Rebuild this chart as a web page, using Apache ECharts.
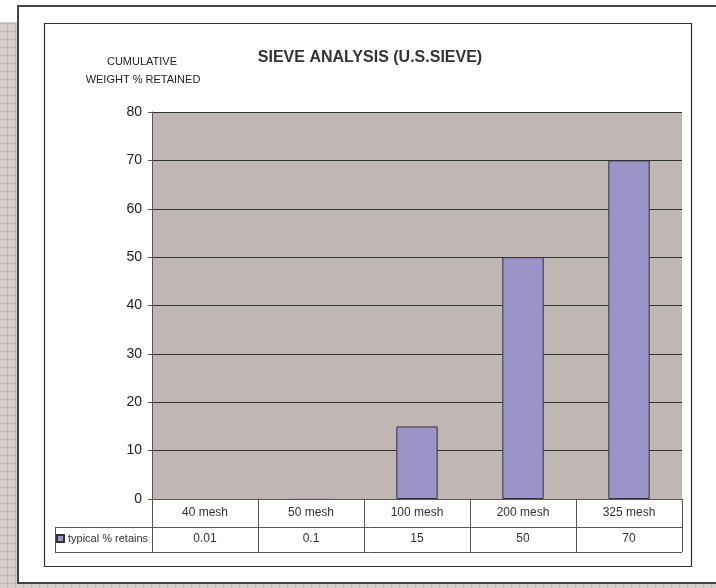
<!DOCTYPE html>
<html><head><meta charset="utf-8">
<script src="https://cdn.jsdelivr.net/npm/echarts@6/dist/echarts.min.js"></script>
<style>html,body{margin:0;padding:0;background:#fff}#c{width:716px;height:588px}</style>
</head><body><div id="c"></div>
<script>
const categories = ['40 mesh', '50 mesh', '100 mesh', '200 mesh', '325 mesh'];
const retains = [0.01, 0.1, 15, 50, 70];
const seriesName = 'typical % retains';
const yTicks = { min: 0, max: 80, interval: 10 };

const FONT = '"Liberation Sans", Arial, sans-serif';
const BAR = '#9a94c8';

// hatch pattern
const pc = document.createElement('canvas');
pc.width = 8; pc.height = 8;
const g = pc.getContext('2d');
g.fillStyle = '#d6cdcd'; g.fillRect(0, 0, 8, 8);
g.fillStyle = '#c2b8b8'; g.fillRect(0, 7, 8, 1); g.fillRect(7, 0, 1, 8);
g.fillStyle = '#ddd5d5'; g.fillRect(2, 2, 1, 1); g.fillRect(5, 4, 1, 1);

const chart = echarts.init(document.getElementById('c'), null, { renderer: 'canvas' });
chart.setOption({
  animation: false,
  backgroundColor: '#fff',
  title: {
    text: 'SIEVE ANALYSIS (U.S.SIEVE)',
    left: 365, top: 45, textAlign: 'center',
    textStyle: { fontFamily: FONT, fontSize: 16, fontWeight: 'bold', color: '#333' }
  },
  legend: {
    data: [seriesName], left: 56, top: 533, itemWidth: 7, itemHeight: 7, itemGap: 4,
    icon: 'rect', padding: 0,
    textStyle: { fontFamily: FONT, fontSize: 11, color: '#333', padding: [0, 0, 0, -1] }
  },
  grid: { left: 152, top: 112, right: 34, bottom: 89, show: true, backgroundColor: '#c0b6b4', borderWidth: 0 },
  xAxis: [{
    type: 'category', data: categories, position: 'bottom',
    axisLine: { lineStyle: { color: '#555', width: 1 } },
    axisTick: { show: true, length: 53, lineStyle: { color: '#555' } },
    axisLabel: { fontFamily: FONT, fontSize: 12, color: '#333', margin: 8 }
  }, {
    type: 'category', data: retains.map(String), position: 'bottom', offset: 26,
    axisLine: { show: false }, axisTick: { show: false },
    axisLabel: { fontFamily: FONT, fontSize: 12, color: '#333', margin: 8 }
  }],
  yAxis: {
    type: 'value', min: yTicks.min, max: yTicks.max, interval: yTicks.interval,
    axisLine: { show: true, lineStyle: { color: '#555' } },
    axisTick: { show: true, length: 4, lineStyle: { color: '#555' } },
    axisLabel: { fontFamily: FONT, fontSize: 14, color: '#222', margin: 10 },
    splitLine: { lineStyle: { color: '#333', width: 1 } }
  },
  series: [{
    name: seriesName, type: 'bar', barWidth: '39%',
    data: retains.map(v => ({ value: v, itemStyle: v < 1 ? { borderWidth: 0 } : {} })),
    itemStyle: { color: BAR, borderColor: '#333', borderWidth: 1 }
  }],
  graphic: [
    { type: 'rect', z: -10, shape: { x: 0, y: 22, width: 18, height: 566 }, style: { fill: { image: pc, repeat: 'repeat' } } },
    { type: 'rect', z: -10, shape: { x: 0, y: 584, width: 716, height: 4 }, style: { fill: { image: pc, repeat: 'repeat' } } },
    { type: 'rect', z: -9, shape: { x: 18, y: 6, width: 702, height: 577 }, style: { fill: '#fff', stroke: '#444', lineWidth: 2 } },
    { type: 'rect', z: -8, shape: { x: 44.5, y: 23.5, width: 647, height: 543 }, style: { fill: '#fff', stroke: '#333', lineWidth: 1.2 } },
    { type: 'line', z: 10, shape: { x1: 55, y1: 527.5, x2: 682, y2: 527.5 }, style: { stroke: '#555', lineWidth: 1 } },
    { type: 'line', z: 10, shape: { x1: 55, y1: 552.5, x2: 682, y2: 552.5 }, style: { stroke: '#555', lineWidth: 1 } },
    { type: 'line', z: 10, shape: { x1: 55.5, y1: 527, x2: 55.5, y2: 553 }, style: { stroke: '#555', lineWidth: 1 } },
    { type: 'text', z: 10, style: { text: 'CUMULATIVE', x: 142, y: 62, textAlign: 'center', textVerticalAlign: 'middle', fill: '#222', font: '11px "Liberation Sans Narrow", "Liberation Sans", Arial' } },
    { type: 'text', z: 10, style: { text: 'WEIGHT % RETAINED', x: 143, y: 80, textAlign: 'center', textVerticalAlign: 'middle', fill: '#222', font: '11px "Liberation Sans Narrow", "Liberation Sans", Arial' } }
  ]
});
</script></body></html>
